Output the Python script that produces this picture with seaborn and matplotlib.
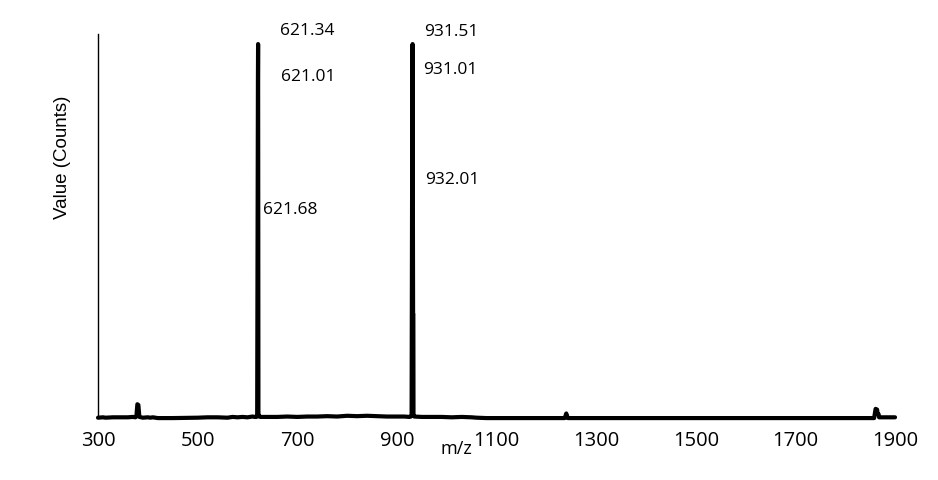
import pandas as pd
import numpy as np
import matplotlib
matplotlib.use('Agg')
import matplotlib.pyplot as plt
import seaborn as sns

sns.set_style("white")
plt.rcParams['font.family'] = ['Open Sans', 'DejaVu Sans']
plt.rcParams['text.color'] = 'black'
plt.rcParams['axes.labelcolor'] = 'black'
plt.rcParams['xtick.color'] = 'black'

# spectrum (relative intensity, 1.0 = top of the axis)
mz = [300, 310, 315, 330, 360, 370, 375, 377, 379, 381, 383, 390, 400, 405, 410, 420,
      450, 500, 520, 540, 560, 570, 580, 590, 600, 610, 615, 618, 619.5,
      621.01, 621.34, 621.68, 622, 623.5, 626,
      640, 660, 680, 700, 720, 740, 760, 780, 800, 820, 840, 860, 880, 900,
      915, 925, 928, 929.5,
      931.01, 931.51, 932.01, 932.5, 933, 933.3, 935,
      950, 970, 990, 1010, 1030, 1050, 1060, 1080, 1100, 1200,
      1237, 1240, 1243, 1300, 1500, 1700, 1850, 1858, 1861, 1864, 1865, 1867, 1868, 1900]
intensity = [0.001, 0.002, 0.001, 0.002, 0.002, 0.003, 0.002, 0.004, 0.036, 0.034, 0.003, 0.001, 0.002, 0.001, 0.002, 0.0,
             0.0, 0.001, 0.002, 0.002, 0.001, 0.003, 0.002, 0.003, 0.002, 0.004, 0.003, 0.003, 0.006,
             0.88, 0.974, 0.52, 0.012, 0.004, 0.003,
             0.003, 0.003, 0.004, 0.003, 0.004, 0.004, 0.005, 0.004, 0.006, 0.005, 0.006, 0.005, 0.004, 0.004,
             0.004, 0.003, 0.004, 0.007,
             0.90, 0.974, 0.60, 0.27, 0.27, 0.006, 0.004,
             0.003, 0.003, 0.003, 0.002, 0.003, 0.002, 0.001, 0.0, 0.0, 0.0,
             0.0, 0.012, 0.0, 0.0, 0.0, 0.0, 0.0, 0.0, 0.024, 0.022, 0.010, 0.010, 0.002, 0.002]

# labelled peaks
label_mz = [621.34, 621.01, 621.68, 931.51, 931.01, 932.01]
label_int = [0.974, 0.88, 0.52, 0.974, 0.90, 0.60]
label_txt = ['621.34', '621.01', '621.68', '931.51', '931.01', '932.01']
# text offsets in pixels from the peak point
label_off = [(22, 13), (23, 3), (5, 8), (12, 12), (11, 2), (12, 8)]

df = pd.DataFrame({'mz': mz, 'intensity': intensity})

fig = plt.figure(figsize=(9.38, 4.8), dpi=100)
ax = fig.add_axes([0.1045, 0.129, 0.8497, 0.8])

sns.lineplot(data=df, x='mz', y='intensity', ax=ax, color='black', lw=3,
             estimator=None, sort=False, clip_on=False,
             solid_joinstyle='round', solid_capstyle='round')

for m, h, t, (dx, dy) in zip(label_mz, label_int, label_txt, label_off):
    ax.annotate(t, xy=(m, h), xytext=(dx, dy), textcoords='offset pixels',
                ha='left', va='center', fontsize=12.5, color='black',
                annotation_clip=False)

ax.set_xlim(300, 1900)
ax.set_ylim(0, 1.0)
ax.set_xticks([300, 500, 700, 900, 1100, 1300, 1500, 1700, 1900])
ax.set_yticks([])
ax.tick_params(axis='x', length=0, pad=9, labelsize=14.5)

ax.set_xlabel('m/z', fontsize=13)
ax.xaxis.set_label_coords(0.45, -0.058)
ax.set_ylabel('Value (Counts)', fontsize=13.5, family=['Liberation Sans', 'DejaVu Sans'])
ax.yaxis.set_label_coords(-0.034, 0.68)

for s in ['top', 'right', 'bottom']:
    ax.spines[s].set_visible(False)
ax.spines['left'].set_color('black')
ax.spines['left'].set_linewidth(1)

plt.savefig('out.png', dpi=100)
plt.close()
